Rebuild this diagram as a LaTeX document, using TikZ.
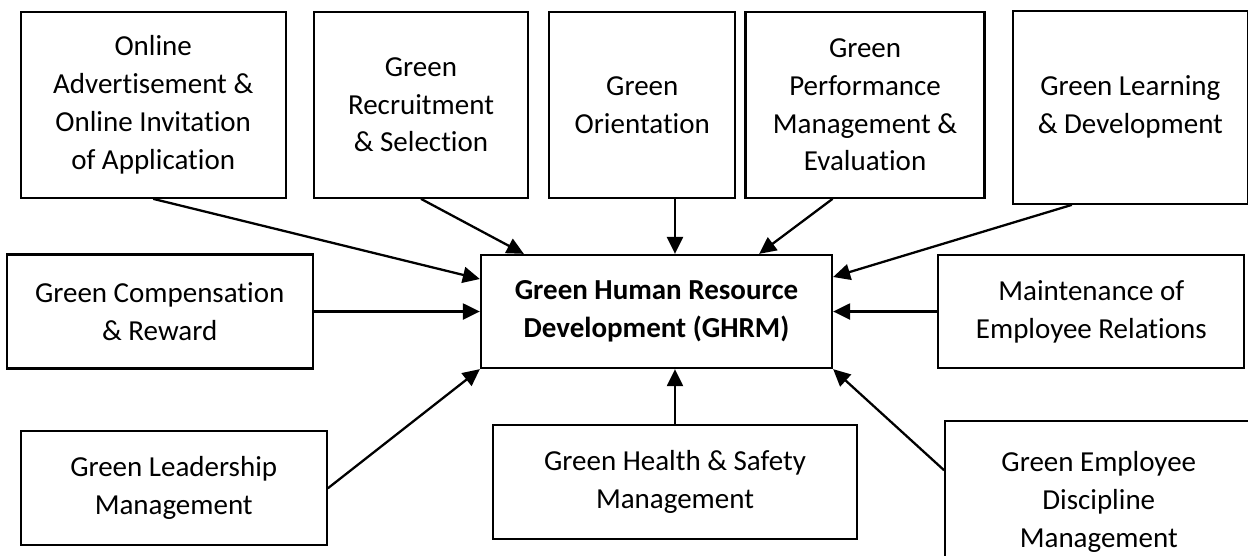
\documentclass[tikz,border=0pt]{standalone}
\usepackage{fontspec}
\setmainfont{Carlito}[Ligatures=NoCommon]
\usetikzlibrary{arrows.meta,positioning}

\begin{document}
\begin{tikzpicture}
	\tikzset{block/.style={draw,line width=1.3pt,align=center,inner sep=0pt,font=\fontsize{16.5}{21.6}\selectfont},
		link/.style={every edge/.style={draw,line width=1.3pt,-{Triangle[length=3.4mm,width=3.2mm]}}}}
	\useasboundingbox (-13.13,-4.87) rectangle (11.83,6.23);
	\clip (-13.13,-4.87) rectangle (11.83,6.23);
	\node [block, minimum width=70.2mm, minimum height=22.6mm, font=\fontsize{16.5}{21.6}\selectfont\bfseries] (ghrm) {Green Human Resource\\Development (GHRM)};
	% top row
	\node [block, minimum width=53mm, minimum height=37.2mm, above left=11mm and 38.6mm of ghrm] (online) {Online\\Advertisement \&\\Online Invitation\\of Application};
	\node [block, minimum width=42.8mm, minimum height=37.2mm, right=5.2mm of online] (recruit) {Green\\Recruitment\\\& Selection};
	\node [block, minimum width=37.2mm, minimum height=37.2mm, right=3.8mm of recruit] (orient) {Green\\Orientation};
	\node [block, minimum width=47.8mm, minimum height=37.2mm, right=1.6mm of orient] (perf) {Green\\Performance\\Management \&\\Evaluation};
	\node [block, minimum width=47mm, minimum height=38.6mm, right=5.2mm of perf, yshift=-0.5mm] (learn) {Green Learning\\\& Development};
	% middle row
	\node [block, minimum width=61.2mm, minimum height=22.8mm, left=33.2mm of ghrm] (comp) {Green Compensation\\\& Reward};
	\node [block, minimum width=61.2mm, minimum height=22.6mm, right=20.8mm of ghrm] (maint) {Maintenance of\\Employee Relations};
	% bottom row
	\node [block, minimum width=61.2mm, minimum height=22.8mm, below left=12.2mm and 30.4mm of ghrm] (lead) {Green Leadership\\Management};
	\node [block, minimum width=72.8mm, minimum height=22.8mm, below=11mm of ghrm, xshift=3.7mm] (health) {Green Health \& Safety\\Management};
	\node [block, minimum width=61.4mm, minimum height=32.4mm, below right=10.2mm and 22.2mm of ghrm] (disc) {Green Employee\\Discipline\\Management};
	\path [link] (online.south) edge ([yshift=6.5mm]ghrm.west)
		(recruit.south) edge ([xshift=8.8mm]ghrm.north west)
		(health.north |- orient.south) edge (health.north |- ghrm.north)
		([xshift=-6.5mm]perf.south) edge ([xshift=-14.8mm]ghrm.north east)
		([xshift=-11.7mm]learn.south) edge ([yshift=6.9mm]ghrm.east)
		(comp) edge (ghrm)
		(maint) edge (ghrm)
		(lead.east) edge (ghrm.south west)
		(health.north) edge (health.north |- ghrm.south)
		([yshift=6.4mm]disc.west) edge (ghrm.south east);
\end{tikzpicture}
\end{document}
